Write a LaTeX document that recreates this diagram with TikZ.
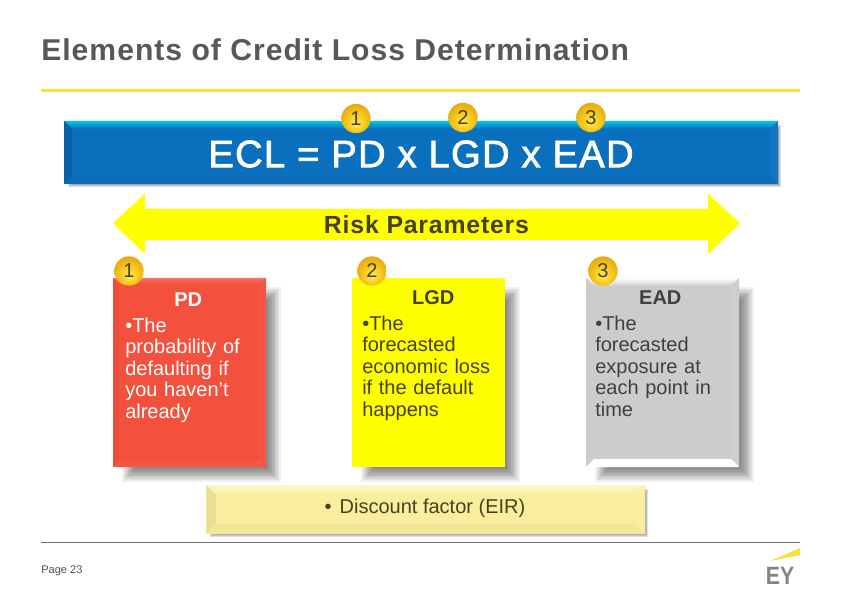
\documentclass[tikz,border=0pt]{standalone}
\usepackage{fontspec}
\setmainfont{Liberation Sans}
\newfontfamily\spacedfont[LetterSpace=3.3]{Liberation Sans}
\newfontfamily\eclfont[FakeBold=2,LetterSpace=3.5]{Liberation Sans}
\usetikzlibrary{shapes,backgrounds,calc}

\definecolor{eyyellow}{HTML}{F5E23C}
\definecolor{eygray}{HTML}{6D6E71}
\definecolor{titlegray}{HTML}{58585A}
\definecolor{txtdark}{HTML}{45411F}
\definecolor{ecblue}{HTML}{0A6FBD}
\definecolor{pdred}{HTML}{F4503E}
\definecolor{lgdyellow}{HTML}{FFFF00}
\definecolor{paleyellow}{HTML}{F8EE9E}
\definecolor{eadgray}{HTML}{CCCCCC}
\definecolor{goldhi}{HTML}{FFEC55}
\definecolor{goldmid}{HTML}{F8CC1E}
\definecolor{goldlow}{HTML}{E2A012}

\pgfdeclareradialshading{goldball}{\pgfpoint{0bp}{-9bp}}{
	color(0bp)=(goldhi);
	color(14bp)=(goldmid);
	color(32bp)=(goldlow);
	color(50bp)=(goldlow)}

\tikzset{
	badge/.style={circle, minimum size=22, inner sep=0, font=\fontsize{15}{15}\selectfont, text=txtdark, shading=goldball},
	boxtext/.style={anchor=north west, inner sep=0, text=txtdark, align=left, font=\fontsize{15}{16.1}\selectfont},
}

% x0 y0 x1 y1, face, top edge, bottom edge, left edge, bevel width
\newcommand{\bevelbox}[9]{
	\fill [#5] (#1,#2) rectangle (#3,#4);
	\shade [top color=#6, bottom color=#5] (#1,#2) -- (#3,#2) -- ($(#3,#2)+(-#9,#9)$) -- ($(#1,#2)+(#9,#9)$) -- cycle;
	\fill [#8] (#1,#2) -- ($(#1,#2)+(#9,#9)$) -- ($(#1,#4)+(#9,-#9)$) -- (#1,#4) -- cycle;
	\fill [#5!96!white] (#3,#2) -- ($(#3,#2)+(-#9,#9)$) -- ($(#3,#4)+(-#9,-#9)$) -- (#3,#4) -- cycle;
	\fill [#7] (#1,#4) -- ($(#1,#4)+(#9,-#9)$) -- ($(#3,#4)+(-#9,-#9)$) -- (#3,#4) -- cycle;
}
% soft shadow: x0 y0 x1 y1, layers
\newcommand{\softshadow}[5]{
	\pgfmathsetmacro{\shadowop}{.3/#5+.03}
	\foreach \s in {1,...,#5}
		\fill [black, opacity=\shadowop] ($(#1,#2)+(.8*#5,.8*#5)+(1.4*\s,1.4*\s)$) rectangle ($(#3,#4)+(1.6*#5,1.6*#5)-(1.4*\s,1.4*\s)$);
}

\begin{document}
\begin{tikzpicture}[x=.75pt, y=-.75pt]
	\useasboundingbox (0,0) rectangle (842,595);

	\node [anchor=west, inner sep=0, text=titlegray, font=\spacedfont\fontsize{22.6}{24}\selectfont\bfseries] (title) at (41,50) {Elements of Credit Loss Determination};
	\draw [eyyellow, line width=2.2pt] (41,90.5) -- (800,90.5);

	% formula bar
	\softshadow{64}{121}{778}{184}{3}
	\bevelbox{64}{121}{778}{184}{ecblue}{cyan!60!ecblue}{ecblue!96!black}{ecblue!88!black}{8}
	\node [text=white, font=\eclfont\fontsize{28.6}{30}\selectfont] (ecl) at (421,154) {ECL = PD x LGD x EAD};
	\node [badge] (top1) at (356,118.5) {1};
	\node [badge] (top2) at (463,117.5) {2};
	\node [badge] (top3) at (591,117.5) {3};

	% risk parameters arrow
	\fill [lgdyellow] (113,223.5) -- (145,193.5) -- (145,209) -- (708,209) -- (708,193.5) -- (740,223.5) -- (708,254) -- (708,240) -- (145,240) -- (145,254) -- cycle;
	\node [text=txtdark, font=\spacedfont\fontsize{18.6}{20}\selectfont\bfseries] (risk) at (426.5,225) {Risk Parameters};

	% three parameter boxes
	\softshadow{113}{278}{266}{467}{10}
	\softshadow{352}{278}{505}{467}{10}
	\softshadow{586}{278}{739}{467}{10}
	\bevelbox{113}{278}{266}{467}{pdred}{pdred!80!white}{pdred!96!white}{pdred!96!black}{6}
	\fill [lgdyellow] (352,278) rectangle (505,467);
	\bevelbox{586}{278}{739}{467}{eadgray}{white}{white}{eadgray}{8}

	\node [boxtext, text=white, text width=94.5] (pd) at (125,292) {\centerline{\bfseries PD}\\[3.5pt]•The\\probability of\\defaulting if\\you haven’t\\already};
	\node [boxtext, text width=106.5] (lgd) at (362,290) {\centerline{\bfseries LGD}\\[3.5pt]•The\\forecasted\\economic loss\\if the default\\happens};
	\node [boxtext, text=black!75, text width=97.5] (ead) at (595,290) {\centerline{\bfseries EAD}\\[3.5pt]•The\\forecasted\\exposure at\\each point in\\time};

	\node [badge] (low1) at (129,271) {1};
	\node [badge] (low2) at (372,271) {2};
	\node [badge] (low3) at (603,271) {3};

	% discount factor
	\softshadow{206}{485}{645}{534}{3}
	\bevelbox{206}{485}{645}{534}{paleyellow}{paleyellow!50!white}{paleyellow!97!black}{paleyellow!94!black}{10}
	\node [text=txtdark, font=\fontsize{15}{16}\selectfont] (eir) at (425,508.5) {•\hspace{6pt}Discount factor (EIR)};

	% footer
	\draw [eygray, line width=.6pt] (41,542.5) -- (800,542.5);
	\node [anchor=west, inner sep=0, text=eygray!70!black, font=\fontsize{8.3}{9}\selectfont] (page) at (41,570.5) {Page 23};
	\fill [eyyellow] (770,561) -- (800,548) -- (800,555) -- cycle;
	\node [anchor=center, inner sep=0, text=eygray!85!white, font=\fontsize{18.8}{19}\selectfont\bfseries] (logo) at (780,575.5) {\scalebox{.85}[1]{EY}};
\end{tikzpicture}
\end{document}
